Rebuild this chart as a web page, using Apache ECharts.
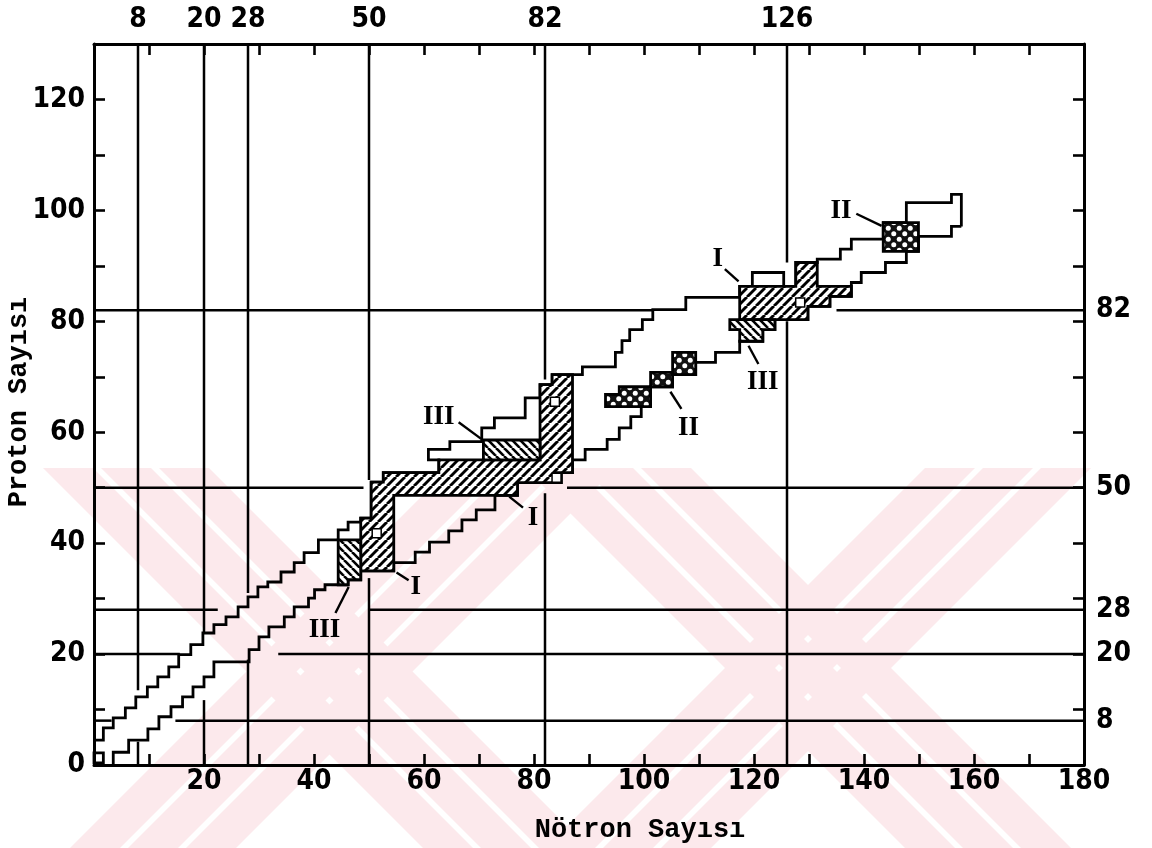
<!DOCTYPE html>
<html>
<head>
<meta charset="utf-8">
<script src="https://cdn.jsdelivr.net/npm/echarts@6/dist/echarts.min.js"></script>
<style>
html, body { margin: 0; padding: 0; background: #fff; }
#chart { width: 1152px; height: 848px; }
</style>
</head>
<body>
<div id="chart"></div>
<script>
// Chart of the nuclides: neutron number N along x, proton number Z along y.

// Tick labels
const bottomTickLabels = [20, 40, 60, 80, 100, 120, 140, 160, 180];
const leftTickLabels = [0, 20, 40, 60, 80, 100, 120];
const magicN = [8, 20, 28, 50, 82, 126];
const magicZ = [8, 20, 28, 50, 82];

// Edges of the band of known nuclei, [N, Z] corners of each step
const upperEdge = [
  [0, 4.5], [1.7, 4.5], [1.7, 6.7], [3.5, 6.7], [3.5, 8.5], [5.7, 8.5], [5.7, 10.3], [7.6, 10.3],
  [7.6, 12.3], [9.7, 12.3], [9.7, 14.1], [11.6, 14.1], [11.6, 15.9], [13.6, 15.9], [13.6, 17.7],
  [15.4, 17.7], [15.4, 19.9], [17.6, 19.9], [17.6, 21.7], [19.8, 21.7], [19.8, 23.8], [21.8, 23.8],
  [21.8, 25.3], [24, 25.3], [24, 26.7], [26.2, 26.7], [26.2, 28.5], [28, 28.5], [28, 30.3],
  [29.8, 30.3], [29.8, 32.1], [31.6, 32.1], [31.6, 33], [34, 33], [34, 34.8], [36.4, 34.8],
  [36.4, 36.5], [38.2, 36.5], [38.2, 38.3], [40.8, 38.3], [40.8, 40.6], [44.4, 40.6], [44.4, 42.4],
  [46.2, 42.4], [46.2, 43.8], [48.5, 43.8], [48.5, 44.5], [50.4, 44.5], [50.4, 51], [52.6, 51],
  [52.6, 52.7], [62.7, 52.7], [62.7, 55], [60.8, 55], [60.8, 56.9], [64.7, 56.9], [64.7, 58.3],
  [70.5, 58.3], [70.5, 60.8], [72.8, 60.8], [72.8, 62.6], [78.4, 62.6], [78.4, 66.2], [81.1, 66.2],
  [81.1, 68.6], [83.3, 68.6], [83.3, 70.4], [88.8, 70.4], [88.8, 71.8], [94.8, 71.8], [94.8, 74.4],
  [96, 74.4], [96, 76.5], [97.4, 76.5], [97.4, 78.5], [99.7, 78.5], [99.7, 80.3], [101.6, 80.3],
  [101.6, 82.1], [107.6, 82.1], [107.6, 84.3], [117.4, 84.3], [117.4, 86.3], [119.7, 86.3],
  [119.7, 88.8], [125.4, 88.8], [125.4, 86.3], [127.6, 86.3], [127.6, 90.6], [131.5, 90.6],
  [131.5, 91.2], [135.7, 91.2], [135.7, 93], [137.7, 93], [137.7, 94.8], [143.5, 94.8],
  [143.5, 97.8], [147.7, 97.8], [147.7, 101.4], [155.9, 101.4], [155.9, 102.9], [157.7, 102.9],
  [157.7, 97.1]
];
const lowerEdge = [
  [3.5, 0], [3.5, 2.3], [6.3, 2.3], [6.3, 4.5], [9.8, 4.5], [9.8, 6.5], [11.8, 6.5], [11.8, 8.7],
  [14, 8.7], [14, 10.5], [16.1, 10.5], [16.1, 12.3], [18, 12.3], [18, 14.1], [20, 14.1], [20, 15.9],
  [21.8, 15.9], [21.8, 18.6], [28.2, 18.6], [28.2, 20.8], [30, 20.8], [30, 23.1], [31.8, 23.1],
  [31.8, 24.9], [34.6, 24.9], [34.6, 26.7], [36.4, 26.7], [36.4, 28.5], [39, 28.5], [39, 30.1],
  [40.1, 30.1], [40.1, 31.6], [42, 31.6], [42, 32.5], [46.2, 32.5], [46.2, 33.4], [48.5, 33.4],
  [48.5, 35], [54.5, 35], [54.5, 36.5], [58.4, 36.5], [58.4, 38.4], [61, 38.4], [61, 40.2],
  [64.5, 40.2], [64.5, 42.2], [66.9, 42.2], [66.9, 44.2], [69.5, 44.2], [69.5, 46], [72.9, 46],
  [72.9, 48.6], [77, 48.6], [77, 50.9], [85, 50.9], [85, 52.7], [87, 52.7], [87, 55], [89.3, 55],
  [89.3, 56.9], [93.3, 56.9], [93.3, 58.7], [95.5, 58.7], [95.5, 60.8], [97.6, 60.8], [97.6, 62.8],
  [99.5, 62.8], [99.5, 64.6], [101.2, 64.6], [101.2, 68.2], [105.2, 68.2], [105.2, 70.4],
  [109.4, 70.4], [109.4, 72.6], [113, 72.6], [113, 74.4], [117.4, 74.4], [117.4, 76.4],
  [121.6, 76.4], [121.6, 78.5], [123.8, 78.5], [123.8, 80.3], [129.8, 80.3], [129.8, 82.7],
  [133.8, 82.7], [133.8, 84.5], [137.7, 84.5], [137.7, 87], [139.5, 87], [139.5, 88.8],
  [143.9, 88.8], [143.9, 90.6], [147.7, 90.6], [147.7, 92.6], [149.9, 92.6], [149.9, 95.3],
  [155.9, 95.3], [155.9, 97.1], [157.7, 97.1]
];
const originBox = [[0, 0.4], [1.7, 0.4], [1.7, 2.2], [0, 2.2]];

// Drawn pieces of the magic-number lines: [value, from, to]
const magicNLines = [
  [8, 0, 4.2], [8, 13.5, 130], [20, 0, 11.7], [20, 24, 130], [28, 0, 19], [28, 31, 130],
  [50, 0, 33.7], [50, 51.4, 130], [82, 0, 49], [82, 69.5, 130], [126, 0, 80], [126, 90.6, 130]
];
const magicZLines = [
  [8, 0, 3.2], [8, 14.8, 180], [20, 0, 15.6], [20, 33.5, 180], [28, 0, 22.5], [28, 50, 180],
  [50, 0, 49], [50, 86, 180], [82, 0, 101.6], [82, 135, 180]
];

// Deformation regions (outlines in [N, Z])
const regionI = [
  [[48.5, 35], [54.5, 35], [54.5, 48.6], [77, 48.6], [77, 50.9], [84, 50.9], [84, 52.7], [87, 52.7],
   [87, 70.4], [83.3, 70.4], [83.3, 68.6], [81.1, 68.6], [81.1, 55], [62.7, 55], [62.7, 52.7],
   [52.6, 52.7], [52.6, 51], [50.4, 51], [50.4, 44.5], [48.5, 44.5]],
  [[117.4, 80.3], [129.8, 80.3], [129.8, 82.7], [133.8, 82.7], [133.8, 84.5], [137.7, 84.5],
   [137.7, 86.3], [131.5, 86.3], [131.5, 90.6], [127.6, 90.6], [127.6, 86.3], [117.4, 86.3]]
];
const regionII = [
  [[93, 64.6], [101.2, 64.6], [101.2, 68.2], [95.5, 68.2], [95.5, 66.8], [93, 66.8]],
  [[101.2, 68.2], [105.2, 68.2], [105.2, 70.8], [101.2, 70.8]],
  [[105.2, 70.4], [109.4, 70.4], [109.4, 74.4], [105.2, 74.4]],
  [[143.5, 92.6], [149.9, 92.6], [149.9, 97.8], [143.5, 97.8]]
];
const regionIII = [
  [[44.4, 32.5], [46.2, 32.5], [46.2, 33.4], [48.5, 33.4], [48.5, 40.6], [44.4, 40.6]],
  [[70.8, 55], [81.1, 55], [81.1, 58.6], [70.8, 58.6]],
  [[115.6, 78.5], [117.4, 78.5], [117.4, 76.4], [121.6, 76.4], [121.6, 78.5], [123.8, 78.5],
   [123.8, 80.3], [115.6, 80.3]]
];
// Closed-shell nuclei marked inside the regions
const shellPoints = [[51.4, 41.8], [83.8, 65.5], [84.1, 51.8], [128.4, 83.4]];

// Region names: [text, textN, textZ, leaderFromN, leaderFromZ, leaderToN, leaderToZ]
const regionLabels = [
  ['I', 113.4, 91.2, 114.7, 89.4, 117.2, 87.2],
  ['II', 135.8, 99.8, 138.6, 99.4, 143.2, 97.2],
  ['III', 121.6, 69.0, 119.0, 75.6, 120.8, 72.3],
  ['II', 108.1, 60.8, 104.8, 67.3, 106.8, 64.2],
  ['III', 62.7, 62.8, 66.3, 61.8, 70.4, 58.8],
  ['I', 79.8, 44.6, 75.5, 48.4, 78.0, 46.4],
  ['I', 58.5, 32.0, 55.0, 34.7, 57.2, 33.3],
  ['III', 41.9, 24.4, 46.3, 32.1, 43.9, 27.4]
];

// ---- fill patterns ----
function hatch(dir, step, lw) {
  const c = document.createElement('canvas');
  c.width = c.height = step;
  const g = c.getContext('2d');
  g.fillStyle = '#fff';
  g.fillRect(0, 0, step, step);
  g.strokeStyle = '#000';
  g.lineWidth = lw;
  for (const k of [-1, 0, 1]) {
    g.beginPath();
    if (dir === '/') { g.moveTo(k * step, step); g.lineTo(k * step + step, 0); }
    else { g.moveTo(k * step, 0); g.lineTo(k * step + step, step); }
    g.stroke();
  }
  return { image: c, repeat: 'repeat' };
}
function dots(step, r) {
  const c = document.createElement('canvas');
  c.width = c.height = step;
  const g = c.getContext('2d');
  g.fillStyle = '#111';
  g.fillRect(0, 0, step, step);
  g.fillStyle = '#fff';
  for (const [x, y] of [[step / 4, step / 4], [3 * step / 4, 3 * step / 4]]) {
    g.beginPath(); g.arc(x, y, r, 0, Math.PI * 2); g.fill();
  }
  return { image: c, repeat: 'repeat' };
}

const tickFont = {
  color: '#000', fontWeight: 'bold', fontSize: 28,
  fontFamily: "'Liberation Sans Narrow', 'DejaVu Sans Condensed', 'Liberation Sans', sans-serif"
};
const frameLine = { show: true, onZero: false, lineStyle: { color: '#000', width: 3 } };
const innerTicks = { show: true, inside: true, length: 11, lineStyle: { color: '#000', width: 2.6 } };

function polySeries(polys, fill) {
  return {
    type: 'custom', coordinateSystem: 'cartesian2d', silent: true, z: 6,
    data: polys.map(p => p[0]),
    renderItem: (params, api) => ({
      type: 'polygon',
      shape: { points: polys[params.dataIndex].map(p => api.coord(p)) },
      style: { fill: fill, stroke: '#000', lineWidth: 2.8, lineJoin: 'miter' }
    })
  };
}
function edgeSeries(points) {
  return {
    type: 'line', data: points, showSymbol: false, symbol: 'none', silent: true, z: 4,
    lineStyle: { color: '#000', width: 2.8, join: 'miter' }, animation: false
  };
}

// pale watermark bands behind the plot
const pink = '#fce9ec';
function band(x0, w, slope) {
  const top = 468, bottom = 848, d = bottom - top;
  if (slope === '\\') return [[x0, top], [x0 + w, top], [x0 + w + d, bottom], [x0 + d, bottom]];
  return [[x0, bottom], [x0 + w, bottom], [x0 + w + d, top], [x0 + d, top]];
}
const bandStarts = [[43, '\\'], [70, '/'], [525, '\\'], [545, '/']];
const watermark = [];
for (const [x0, s] of bandStarts) {
  for (let k = 0; k < 3; k++) {
    watermark.push({
      type: 'polygon', z: -10, silent: true,
      shape: { points: band(x0 + k * 58, 50, s) },
      style: { fill: pink }
    });
  }
}

const chart = echarts.init(document.getElementById('chart'), null, { renderer: 'canvas' });
chart.setOption({
  animation: false,
  backgroundColor: '#fff',
  graphic: [
    ...watermark,
    { type: 'text', x: 640, y: 830, silent: true,
      style: { text: 'Nötron Sayısı', fill: '#000', font: "bold 27px 'Liberation Mono', 'DejaVu Sans Mono', monospace",
               textAlign: 'center', textVerticalAlign: 'middle' } },
    { type: 'text', x: 19, y: 402, rotation: Math.PI / 2, silent: true,
      style: { text: 'Proton Sayısı', fill: '#000', font: "bold 27px 'Liberation Mono', 'DejaVu Sans Mono', monospace",
               textAlign: 'center', textVerticalAlign: 'middle' } }
  ],
  grid: { left: 94, right: 68, top: 44, bottom: 83, containLabel: false },
  xAxis: [
    { type: 'value', min: 0, max: 180, interval: 10, position: 'bottom',
      axisLine: frameLine, axisTick: innerTicks, splitLine: { show: false },
      axisLabel: { ...tickFont, customValues: bottomTickLabels, margin: 3 } },
    { type: 'value', min: 0, max: 180, interval: 10, position: 'top',
      axisLine: frameLine, axisTick: innerTicks, splitLine: { show: false },
      axisLabel: { ...tickFont, customValues: magicN, margin: 10 } }
  ],
  yAxis: [
    { type: 'value', min: 0, max: 130, interval: 10, position: 'left',
      axisLine: frameLine, axisTick: innerTicks, splitLine: { show: false },
      axisLabel: { ...tickFont, customValues: leftTickLabels, margin: 9 } },
    { type: 'value', min: 0, max: 130, interval: 10, position: 'right',
      axisLine: frameLine, axisTick: innerTicks, splitLine: { show: false },
      axisLabel: { ...tickFont, customValues: magicZ, margin: 12 } }
  ],
  series: [
    // magic-number lines at constant N
    { type: 'custom', coordinateSystem: 'cartesian2d', silent: true, z: 3,
      data: magicNLines,
      renderItem: (params, api) => {
        const a = api.coord([api.value(0), api.value(1)]);
        const b = api.coord([api.value(0), api.value(2)]);
        return { type: 'line', shape: { x1: a[0], y1: a[1], x2: b[0], y2: b[1] },
                 style: { stroke: '#000', lineWidth: 2.5 } };
      } },
    // magic-number lines at constant Z
    { type: 'custom', coordinateSystem: 'cartesian2d', silent: true, z: 3,
      data: magicZLines.map(r => [r[1], r[0], r[2]]),
      renderItem: (params, api) => {
        const a = api.coord([api.value(0), api.value(1)]);
        const b = api.coord([api.value(2), api.value(1)]);
        return { type: 'line', shape: { x1: a[0], y1: a[1], x2: b[0], y2: b[1] },
                 style: { stroke: '#000', lineWidth: 2.5 } };
      } },
    edgeSeries(upperEdge),
    edgeSeries(lowerEdge),
    polySeries([originBox], 'none'),
    polySeries(regionI, hatch('/', 9, 2.9)),
    polySeries(regionIII, hatch('\\', 8, 2.6)),
    polySeries(regionII, dots(11, 2.5)),
    { type: 'scatter', data: shellPoints, symbol: 'rect', symbolSize: 9, silent: true, z: 8,
      itemStyle: { color: '#fff', borderColor: '#000', borderWidth: 1.5, opacity: 1 } },
    // region names with leader lines
    { type: 'custom', coordinateSystem: 'cartesian2d', silent: true, z: 9,
      data: regionLabels.map(r => [r[1], r[2], r[3], r[4], r[5], r[6]]),
      renderItem: (params, api) => {
        const r = regionLabels[params.dataIndex];
        const t = api.coord([r[1], r[2]]);
        const a = api.coord([r[3], r[4]]);
        const b = api.coord([r[5], r[6]]);
        return { type: 'group', children: [
          { type: 'line', shape: { x1: a[0], y1: a[1], x2: b[0], y2: b[1] },
            style: { stroke: '#000', lineWidth: 2.4 } },
          { type: 'text', x: t[0], y: t[1],
            style: { text: r[0], fill: '#000', font: "bold 27px 'Liberation Serif', 'DejaVu Serif', serif",
                     textAlign: 'center', textVerticalAlign: 'middle' } }
        ] };
      } }
  ]
});
</script>
</body>
</html>
